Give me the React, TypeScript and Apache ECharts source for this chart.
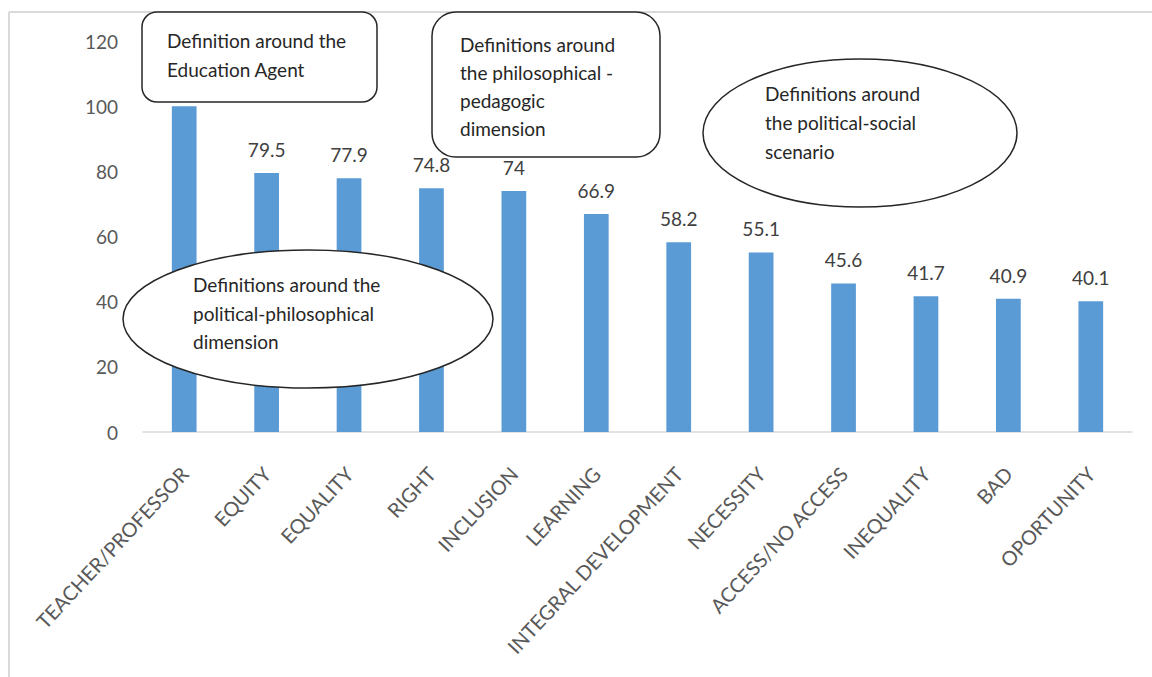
import React, { useEffect, useRef } from "react";
import * as echarts from "echarts";

const categories = [
  "TEACHER/PROFESSOR",
  "EQUITY",
  "EQUALITY",
  "RIGHT",
  "INCLUSION",
  "LEARNING",
  "INTEGRAL DEVELOPMENT",
  "NECESSITY",
  "ACCESS/NO ACCESS",
  "INEQUALITY",
  "BAD",
  "OPORTUNITY",
];
const values = [100, 79.5, 77.9, 74.8, 74, 66.9, 58.2, 55.1, 45.6, 41.7, 40.9, 40.1];
// the first bar's value label is covered by the callout box in the reference
const hiddenLabelIndex = 0;

const box1Lines = ["Definition around the", "Education Agent"];
const box2Lines = ["Definitions around", "the philosophical -", "pedagogic", "dimension"];
const ellipseRightLines = ["Definitions around", "the political-social", "scenario"];
const ellipseLeftLines = ["Definitions around the", "political-philosophical", "dimension"];

const FONT = "Lato, 'Open Sans', sans-serif";

function textLines(lines: string[], x: number, ys: number[]) {
  return lines.map((t, i) => ({
    type: "text",
    z: 110,
    style: {
      text: t,
      x,
      y: ys[i],
      font: `19px ${FONT}`,
      fill: "#262626",
      verticalAlign: "middle",
      textVerticalAlign: "middle",
      align: "left",
      textAlign: "left",
    },
  }));
}

export default function App() {
  const ref = useRef<HTMLDivElement>(null);
  useEffect(() => {
    if (!ref.current) return;
    const chart = echarts.init(ref.current, undefined, { renderer: "svg" });
    const stroke = { stroke: "#262626", lineWidth: 1.5, fill: "#ffffff" };
    chart.setOption({
      animation: false,
      backgroundColor: "#ffffff",
      grid: { left: 143, right: 20, top: 41, bottom: 245, containLabel: false },
      xAxis: {
        type: "category",
        data: categories,
        axisLine: { lineStyle: { color: "#d9d9d9", width: 1.5 } },
        axisTick: { show: false },
        axisLabel: {
          rotate: 47,
          interval: 0,
          margin: 38,
          color: "#595959",
          fontSize: 20,
          fontFamily: FONT,
        },
      },
      yAxis: {
        type: "value",
        min: 0,
        max: 120,
        interval: 20,
        axisLine: { show: false },
        axisTick: { show: false },
        splitLine: { show: false },
        axisLabel: { color: "#595959", fontSize: 19, fontFamily: FONT, margin: 25 },
      },
      series: [
        {
          type: "bar",
          data: values.map((v, i) =>
            i === hiddenLabelIndex ? { value: v, label: { show: false } } : v
          ),
          barWidth: "30%",
          itemStyle: { color: "#5B9BD5" },
          label: {
            show: true,
            position: "top",
            distance: 14,
            color: "#404040",
            fontSize: 19,
            fontFamily: FONT,
          },
        },
      ],
      graphic: {
        elements: [
          { type: "line", z: 90, shape: { x1: 9, y1: 12, x2: 9, y2: 677 }, style: { stroke: "#d9d9d9", lineWidth: 2 } },
          { type: "line", z: 90, shape: { x1: 9, y1: 12, x2: 1152, y2: 12 }, style: { stroke: "#d9d9d9", lineWidth: 2 } },
          { type: "rect", z: 100, shape: { x: 142, y: 12, width: 235, height: 90, r: 15 }, style: stroke },
          ...textLines(box1Lines, 167, [40, 69]),
          { type: "rect", z: 100, shape: { x: 432, y: 12, width: 228, height: 145, r: 24 }, style: stroke },
          ...textLines(box2Lines, 460, [44, 72, 100, 128]),
          { type: "ellipse", z: 100, shape: { cx: 860, cy: 133, rx: 157, ry: 74 }, style: stroke },
          ...textLines(ellipseRightLines, 765, [93, 122, 151]),
          { type: "ellipse", z: 100, shape: { cx: 308, cy: 319, rx: 185, ry: 69 }, style: stroke },
          ...textLines(ellipseLeftLines, 193, [284, 313, 341]),
        ],
      },
    });
    return () => chart.dispose();
  }, []);
  return (
    <div
      ref={ref}
      style={{ position: "fixed", left: 0, top: 0, width: 1152, height: 677 }}
    />
  );
}
